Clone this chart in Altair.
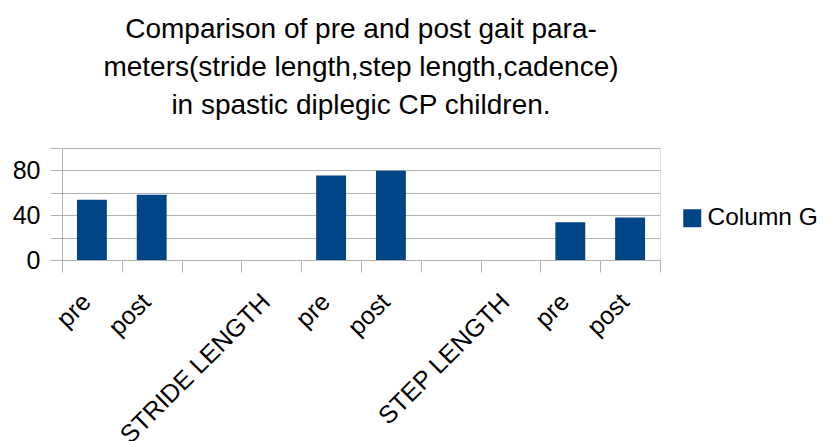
import json
import altair as alt
import pandas as pd

keys = ["0", "1", "2", "3", "4", "5", "6", "7", "8", "9"]
labels = ["pre", "post", "", "STRIDE LENGTH", "pre", "post", "", "STEP LENGTH", "pre", "post"]
values = [53.7, 58.2, None, None, 75.5, 79.7, None, None, 33.7, 37.9]
series = "Column G"
title_lines = [
    "Comparison of pre and post gait para-",
    "meters(stride length,step length,cadence)",
    "in spastic diplegic CP children.",
]

df = pd.DataFrame({"key": keys, "value": values, "series": [series] * len(keys)})

FONT = "Liberation Sans"
GRAY = "#b3b3b3"
label_expr = json.dumps(labels) + "[toNumber(datum.value)]"

chart = (
    alt.Chart(df)
    .mark_bar(color="#004586", width=alt.RelativeBandSize(0.5))
    .encode(
        x=alt.X(
            "key:N",
            sort=keys,
            scale=alt.Scale(domain=keys, paddingInner=0, paddingOuter=0),
            axis=alt.Axis(
                title=None,
                labelExpr=label_expr,
                labelAngle=-45,
                labelAlign="right",
                labelBaseline="alphabetic",
                labelPadding=31,
                labelLimit=0,
                labelOverlap=False,
                labelFont=FONT,
                labelFontSize=25,
                labelColor="#000000",
                tickBand="extent",
                tickSize=12,
                tickColor=GRAY,
                domainColor=GRAY,
                grid=False,
            ),
        ),
        y=alt.Y(
            "value:Q",
            scale=alt.Scale(domain=[0, 100], nice=False),
            axis=alt.Axis(
                title=None,
                values=[0, 20, 40, 60, 80, 100],
                labelExpr="datum.value % 40 == 0 ? datum.label : ''",
                labelFont=FONT,
                labelFontSize=25,
                labelColor="#000000",
                labelPadding=10,
                tickSize=12,
                tickColor=GRAY,
                domainColor=GRAY,
                gridColor=GRAY,
                grid=True,
            ),
        ),
        color=alt.Color(
            "series:N",
            scale=alt.Scale(range=["#004586"]),
            legend=alt.Legend(
                title=None,
                orient="none",
                legendX=618,
                legendY=58,
                symbolType="square",
                symbolSize=324,
                symbolStrokeWidth=0,
                labelFont=FONT,
                labelFontSize=24.5,
                labelColor="#000000",
                labelOffset=3,
                padding=0,
            ),
        ),
    )
    .properties(
        width=598,
        height=112,
        autosize=alt.AutoSizeParams(type="none"),
        padding={"left": 54, "top": 140, "right": 161, "bottom": 181},
        title=alt.TitleParams(
            text=title_lines,
            font=FONT,
            fontSize=28,
            fontWeight="normal",
            color="#000000",
            anchor="middle",
            frame="group",
            lineHeight=38,
            offset=28,
        ),
    )
    .configure_view(stroke=GRAY)
    .configure(background="white")
)

chart.save("out.html", embed_options={"renderer": "svg", "actions": False})
